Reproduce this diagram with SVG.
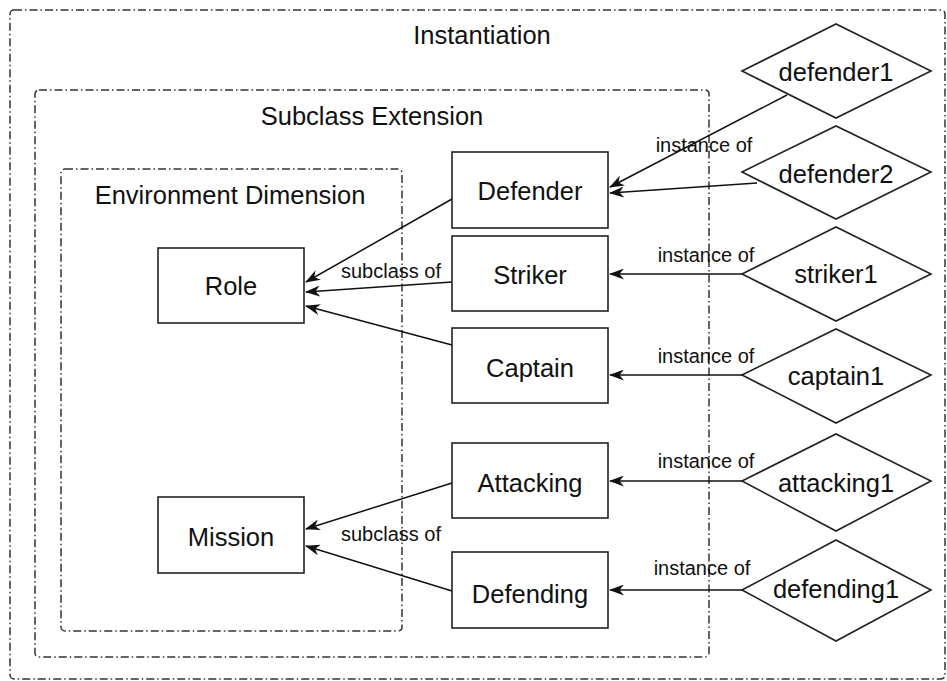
<svg xmlns="http://www.w3.org/2000/svg" width="947" height="681" viewBox="0 0 947 681">
<style>
.frame{fill:none;stroke:#333;stroke-width:1.5;stroke-dasharray:8 3 1.5 3}
.box{fill:#fff;stroke:#222;stroke-width:1.6}
.edge{fill:none;stroke:#111;stroke-width:1.5;marker-end:url(#arr)}
text{font-family:"Liberation Sans",Arial,sans-serif;fill:#111}
.big{font-size:25.5px;text-anchor:middle}
.lbl{font-size:20px;text-anchor:middle}
</style>
<defs>
<marker id="arr" viewBox="0 0 15 11" refX="14" refY="5.5" markerWidth="15" markerHeight="11" markerUnits="userSpaceOnUse" orient="auto">
<path d="M0,0 L15,5.5 L0,11 L4.5,5.5 z" fill="#111"/>
</marker>
</defs>
<rect width="947" height="681" fill="#fff"/>
<g id="instantiation">
<rect class="frame" x="10" y="10" width="935" height="669" rx="4"/>
<text class="big" x="482" y="44">Instantiation</text>
</g>
<g id="subclass-extension">
<rect class="frame" x="35" y="90" width="674" height="567" rx="4"/>
<text class="big" x="372" y="125">Subclass Extension</text>
</g>
<g id="environment-dimension">
<rect class="frame" x="61" y="169" width="341" height="462" rx="4"/>
<text class="big" x="230" y="204">Environment Dimension</text>
</g>
<g id="connectors">
<path class="edge" d="M787,95 L610,187"/>
<path class="edge" d="M757,183 L610,193"/>
<path class="edge" d="M452,199 L306,282"/>
<path class="edge" d="M452,282 L306,292"/>
<path class="edge" d="M452,345 L306,306"/>
<path class="edge" d="M452,483 L306,529"/>
<path class="edge" d="M452,591 L306,546"/>
<path class="edge" d="M742,274 L610,274"/>
<path class="edge" d="M742,375 L610,375"/>
<path class="edge" d="M742,481 L610,481"/>
<path class="edge" d="M742,590 L610,590"/>
<text class="lbl" x="704" y="152">instance of</text>
<text class="lbl" x="706" y="262">instance of</text>
<text class="lbl" x="706" y="363">instance of</text>
<text class="lbl" x="706" y="468">instance of</text>
<text class="lbl" x="702" y="575">instance of</text>
<text class="lbl" x="391" y="278">subclass of</text>
<text class="lbl" x="391" y="541">subclass of</text>
</g>
<g id="role"><rect class="box" x="158" y="248" width="146" height="75"/><text class="big" x="231" y="295">Role</text></g>
<g id="mission"><rect class="box" x="158" y="497" width="146" height="76"/><text class="big" x="231" y="546">Mission</text></g>
<g id="defender"><rect class="box" x="452" y="152" width="156" height="76"/><text class="big" x="530" y="200">Defender</text></g>
<g id="striker"><rect class="box" x="452" y="236" width="156" height="75"/><text class="big" x="530" y="284">Striker</text></g>
<g id="captain"><rect class="box" x="452" y="328" width="156" height="75"/><text class="big" x="530" y="377">Captain</text></g>
<g id="attacking"><rect class="box" x="452" y="443" width="156" height="75"/><text class="big" x="530" y="492">Attacking</text></g>
<g id="defending"><rect class="box" x="452" y="552" width="156" height="76"/><text class="big" x="530" y="603">Defending</text></g>
<g id="defender1"><polygon class="box" points="742,71 836,24 931,71 836,118"/><text class="big" x="836" y="81">defender1</text></g>
<g id="defender2"><polygon class="box" points="742,172 836,126 931,172 836,219"/><text class="big" x="836" y="183">defender2</text></g>
<g id="striker1"><polygon class="box" points="742,274 836,227 931,274 836,321"/><text class="big" x="836" y="283">striker1</text></g>
<g id="captain1"><polygon class="box" points="742,375 836,329 931,375 836,423"/><text class="big" x="836" y="385">captain1</text></g>
<g id="attacking1"><polygon class="box" points="742,481 836,434 931,481 836,531"/><text class="big" x="836" y="492">attacking1</text></g>
<g id="defending1"><polygon class="box" points="742,590 836,540 931,590 836,641"/><text class="big" x="836" y="598">defending1</text></g>
</svg>
